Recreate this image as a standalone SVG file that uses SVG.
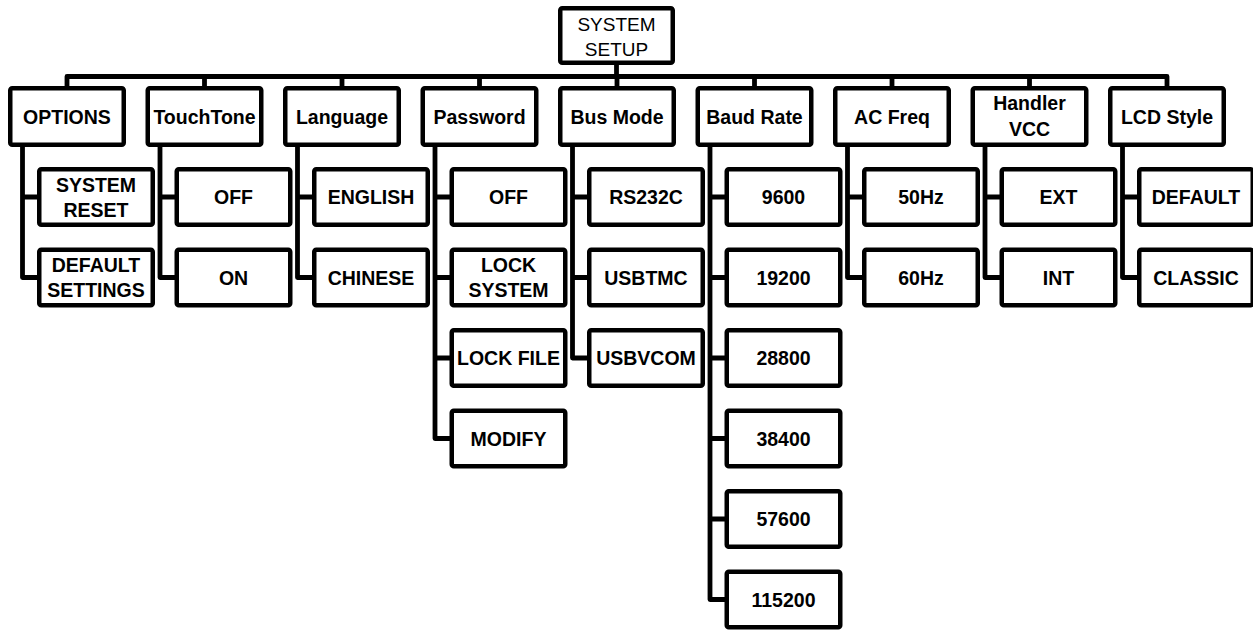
<svg xmlns="http://www.w3.org/2000/svg" width="1253" height="630" viewBox="0 0 1253 630">
<style>
rect{fill:#fff;stroke:#000;stroke-width:4.5;}
.c path{fill:none;stroke:#000;stroke-width:4.8;stroke-linejoin:round;}
text{font-family:"Liberation Sans",Arial,sans-serif;font-size:19.5px;font-weight:bold;text-anchor:middle;fill:#000;}
text.r{font-weight:normal;font-size:19px;}
</style>
<rect width="1253" height="630" style="fill:#fff;stroke:none"/>
<g class="c" id="connectors">
<path d="M616.5 63 V76.5"/>
<path d="M67 88 V76.5 H1167 V88"/>
<path d="M204.5 76.5 V88 M342 76.5 V88 M479.5 76.5 V88 M617 76.5 V88 M754.5 76.5 V88 M892 76.5 V88 M1029.5 76.5 V88"/>
<path d="M22.5 145 V277.5 H39 M22.5 197 H39"/>
<path d="M160 145 V277.5 H176.5 M160 197 H176.5"/>
<path d="M297.5 145 V277.5 H314 M297.5 197 H314"/>
<path d="M435 145 V438.5 H451.5 M435 197 H451.5 M435 277.5 H451.5 M435 358 H451.5"/>
<path d="M572.5 145 V358 H589 M572.5 197 H589 M572.5 277.5 H589"/>
<path d="M710 145 V599.5 H726.5 M710 197 H726.5 M710 277.5 H726.5 M710 358 H726.5 M710 438.5 H726.5 M710 519 H726.5"/>
<path d="M847.5 145 V277.5 H864 M847.5 197 H864"/>
<path d="M985 145 V277.5 H1001.5 M985 197 H1001.5"/>
<path d="M1122.5 145 V277.5 H1139 M1122.5 197 H1139"/>
</g>
<g id="root"><rect x="560.25" y="8.25" width="112.5" height="54.5" rx="2"/><text class="r" x="616.5" y="31">SYSTEM</text><text class="r" x="616.5" y="56">SETUP</text></g>
<g id="options"><rect x="10.25" y="88.25" width="113.5" height="56.5" rx="2"/><text x="67" y="123.5">OPTIONS</text></g>
<g id="touchtone"><rect x="147.75" y="88.25" width="113.5" height="56.5" rx="2"/><text x="204.5" y="123.5">TouchTone</text></g>
<g id="language"><rect x="285.25" y="88.25" width="113.5" height="56.5" rx="2"/><text x="342" y="123.5">Language</text></g>
<g id="password"><rect x="422.75" y="88.25" width="113.5" height="56.5" rx="2"/><text x="479.5" y="123.5">Password</text></g>
<g id="busmode"><rect x="560.25" y="88.25" width="113.5" height="56.5" rx="2"/><text x="617" y="123.5">Bus Mode</text></g>
<g id="baudrate"><rect x="697.75" y="88.25" width="113.5" height="56.5" rx="2"/><text x="754.5" y="123.5">Baud Rate</text></g>
<g id="acfreq"><rect x="835.25" y="88.25" width="113.5" height="56.5" rx="2"/><text x="892" y="123.5">AC Freq</text></g>
<g id="handlervcc"><rect x="972.75" y="88.25" width="113.5" height="56.5" rx="2"/><text x="1029.5" y="110">Handler</text><text x="1029.5" y="136">VCC</text></g>
<g id="lcdstyle"><rect x="1110.25" y="88.25" width="113.5" height="56.5" rx="2"/><text x="1167" y="123.5">LCD Style</text></g>

<g id="opt-reset"><rect x="39.25" y="169.25" width="113.5" height="55.5" rx="2"/><text x="96" y="191.5">SYSTEM</text><text x="96" y="216.5">RESET</text></g>
<g id="opt-default"><rect x="39.25" y="249.75" width="113.5" height="55.5" rx="2"/><text x="96" y="272">DEFAULT</text><text x="96" y="297">SETTINGS</text></g>

<g id="tt-off"><rect x="176.75" y="169.25" width="113.5" height="55.5" rx="2"/><text x="233.5" y="204">OFF</text></g>
<g id="tt-on"><rect x="176.75" y="249.75" width="113.5" height="55.5" rx="2"/><text x="233.5" y="284.5">ON</text></g>

<g id="lang-en"><rect x="314.25" y="169.25" width="113.5" height="55.5" rx="2"/><text x="371" y="204">ENGLISH</text></g>
<g id="lang-cn"><rect x="314.25" y="249.75" width="113.5" height="55.5" rx="2"/><text x="371" y="284.5">CHINESE</text></g>

<g id="pw-off"><rect x="451.75" y="169.25" width="113.5" height="55.5" rx="2"/><text x="508.5" y="204">OFF</text></g>
<g id="pw-locksys"><rect x="451.75" y="249.75" width="113.5" height="55.5" rx="2"/><text x="508.5" y="272">LOCK</text><text x="508.5" y="297">SYSTEM</text></g>
<g id="pw-lockfile"><rect x="451.75" y="330.25" width="113.5" height="55.5" rx="2"/><text x="508.5" y="365">LOCK FILE</text></g>
<g id="pw-modify"><rect x="451.75" y="410.75" width="113.5" height="55.5" rx="2"/><text x="508.5" y="445.5">MODIFY</text></g>

<g id="bus-rs232c"><rect x="589.25" y="169.25" width="113.5" height="55.5" rx="2"/><text x="646" y="204">RS232C</text></g>
<g id="bus-usbtmc"><rect x="589.25" y="249.75" width="113.5" height="55.5" rx="2"/><text x="646" y="284.5">USBTMC</text></g>
<g id="bus-usbvcom"><rect x="589.25" y="330.25" width="113.5" height="55.5" rx="2"/><text x="646" y="365">USBVCOM</text></g>

<g id="baud-9600"><rect x="726.75" y="169.25" width="113.5" height="55.5" rx="2"/><text x="783.5" y="204">9600</text></g>
<g id="baud-19200"><rect x="726.75" y="249.75" width="113.5" height="55.5" rx="2"/><text x="783.5" y="284.5">19200</text></g>
<g id="baud-28800"><rect x="726.75" y="330.25" width="113.5" height="55.5" rx="2"/><text x="783.5" y="365">28800</text></g>
<g id="baud-38400"><rect x="726.75" y="410.75" width="113.5" height="55.5" rx="2"/><text x="783.5" y="445.5">38400</text></g>
<g id="baud-57600"><rect x="726.75" y="491.25" width="113.5" height="55.5" rx="2"/><text x="783.5" y="526">57600</text></g>
<g id="baud-115200"><rect x="726.75" y="571.75" width="113.5" height="55.5" rx="2"/><text x="783.5" y="606.5">115200</text></g>

<g id="ac-50"><rect x="864.25" y="169.25" width="113.5" height="55.5" rx="2"/><text x="921" y="204">50Hz</text></g>
<g id="ac-60"><rect x="864.25" y="249.75" width="113.5" height="55.5" rx="2"/><text x="921" y="284.5">60Hz</text></g>

<g id="vcc-ext"><rect x="1001.75" y="169.25" width="113.5" height="55.5" rx="2"/><text x="1058.5" y="204">EXT</text></g>
<g id="vcc-int"><rect x="1001.75" y="249.75" width="113.5" height="55.5" rx="2"/><text x="1058.5" y="284.5">INT</text></g>

<g id="lcd-default"><rect x="1139.25" y="169.25" width="113.5" height="55.5" rx="2"/><text x="1196" y="204">DEFAULT</text></g>
<g id="lcd-classic"><rect x="1139.25" y="249.75" width="113.5" height="55.5" rx="2"/><text x="1196" y="284.5">CLASSIC</text></g>
</svg>
